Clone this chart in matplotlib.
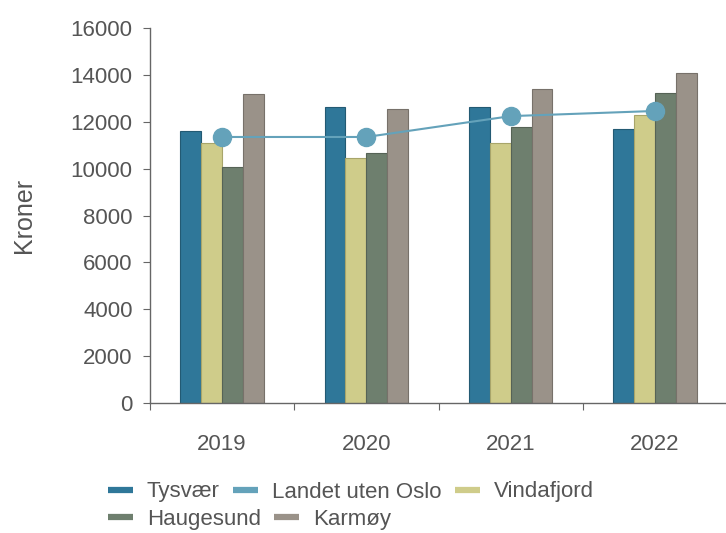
import matplotlib.pyplot as plt
import numpy as np

plt.rcParams['font.family'] = ['Liberation Sans', 'DejaVu Sans']

years = ['2019', '2020', '2021', '2022']
tysvaer = [11620, 12640, 12640, 11700]
vindafjord = [11100, 10440, 11100, 12270]
haugesund = [10080, 10680, 11790, 13240]
karmoy = [13170, 12560, 13410, 14090]
landet = [11350, 11350, 12240, 12460]

bar_series = [
    ('Tysvær', tysvaer, '#2f7799', '#235a73'),
    ('Vindafjord', vindafjord, '#cfcc8a', '#a8a56a'),
    ('Haugesund', haugesund, '#6e7f6e', '#566356'),
    ('Karmøy', karmoy, '#9a9289', '#77716a'),
]
line_color = '#64a2ba'
text_color = '#555555'
axis_color = '#666666'

fig = plt.figure(figsize=(7.26, 5.33), dpi=100)
ax = fig.add_axes([150 / 726, 1 - 403 / 533, 577 / 726, 375 / 533])

x = np.arange(len(years))
w = 0.145
for i, (name, vals, col, edge) in enumerate(bar_series):
    ax.bar(x + (i - 1.5) * w, vals, width=w, color=col, edgecolor=edge,
           linewidth=0.8, zorder=2)

ax.plot(x, landet, color=line_color, linewidth=1.5, marker='o',
        markersize=13, zorder=3)

ax.set_xlim(-0.5, 3.5)
ax.set_ylim(0, 16000)
ax.set_yticks(np.arange(0, 16001, 2000))

# boundary ticks without labels, year labels in between
ax.set_xticks([-0.5, 0.5, 1.5, 2.5, 3.5])
ax.set_xticklabels([])
ax.set_xticks(x, minor=True)
ax.set_xticklabels(years, minor=True)
ax.tick_params(axis='x', which='minor', length=0, pad=22,
               labelsize=16, labelcolor=text_color)
ax.tick_params(axis='x', which='major', length=5, color=axis_color)
ax.tick_params(axis='y', length=5, color=axis_color, labelsize=16,
               labelcolor=text_color, pad=7.5)

for side in ('top', 'right'):
    ax.spines[side].set_visible(False)
for side in ('left', 'bottom'):
    ax.spines[side].set_color(axis_color)
    ax.spines[side].set_linewidth(1)

fig.text(24 / 726, 1 - 215 / 533, 'Kroner', rotation=90, fontsize=18,
         color=text_color, ha='center', va='center')

# legend in two flowing rows
def handle(col):
    return plt.Line2D([], [], color=col, linewidth=4.5, solid_capstyle='butt')

row1 = [(handle('#2f7799'), 'Tysvær'), (handle(line_color), 'Landet uten Oslo'),
        (handle('#cfcc8a'), 'Vindafjord')]
row2 = [(handle('#6e7f6e'), 'Haugesund'), (handle('#9a9289'), 'Karmøy')]

legend_kw = dict(frameon=False, fontsize=16, handlelength=1.13,
                 handletextpad=0.62, columnspacing=0.6, loc='center left',
                 labelcolor=text_color, borderaxespad=0, borderpad=0)
for row, ypos in ((row1, 492), (row2, 519)):
    hs, ls = zip(*row)
    fig.legend(hs, ls, ncol=len(hs),
               bbox_to_anchor=(108 / 726, 1 - ypos / 533), **legend_kw)

fig.savefig('out.png', dpi=100)
